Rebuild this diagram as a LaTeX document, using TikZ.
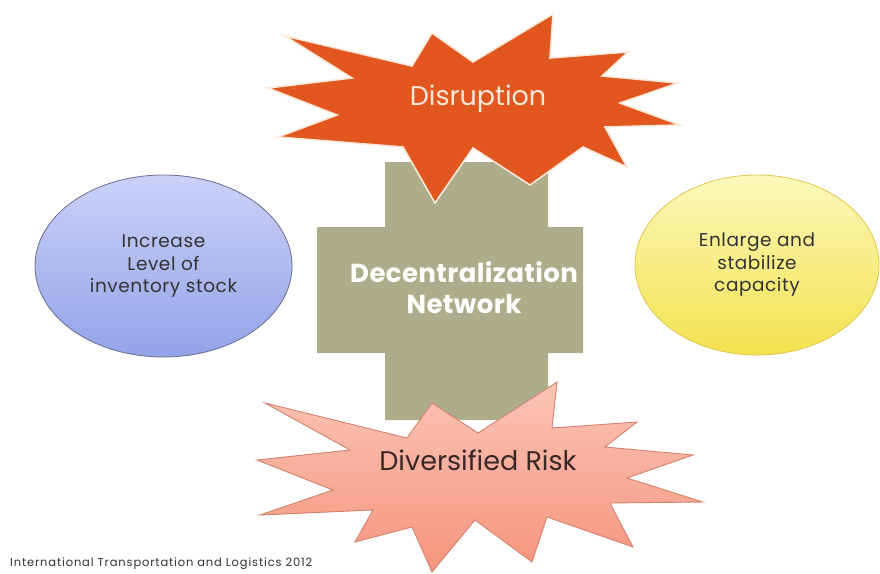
\documentclass[tikz,border=0pt]{standalone}
\usepackage{fontspec}
\setmainfont{Poppins}
\usetikzlibrary{shapes.geometric}
\definecolor{crossfill}{HTML}{ADAC8B}
\definecolor{burst}{HTML}{E2561F}
\definecolor{burstText}{HTML}{FDE8D8}
\definecolor{riskTop}{HTML}{FBC4B6}
\definecolor{riskBot}{HTML}{F5957E}
\definecolor{riskLine}{HTML}{D5826C}
\definecolor{riskText}{HTML}{3A2826}
\definecolor{blueTop}{HTML}{CBD1F7}
\definecolor{blueBot}{HTML}{93A3E8}
\definecolor{blueLine}{HTML}{6A6F8E}
\definecolor{yelTop}{HTML}{FBF8BC}
\definecolor{yelBot}{HTML}{F3E24E}
\definecolor{yelLine}{HTML}{E3C54A}
\definecolor{inkText}{HTML}{333333}
\tikzset{
  bubble/.style={ellipse, minimum width=257pt, minimum height=182pt, line width=0.8pt,
    align=center, text=inkText,
    font=\fontsize{18.5}{22.5}\selectfont\addfontfeatures{LetterSpace=3}},
  bigtext/.style={align=center, font=\fontsize{27}{31}\selectfont},
}
\begin{document}
\begin{tikzpicture}[x=1pt,y=-1pt]
\useasboundingbox (0,0) rectangle (880,573);
\fill[white] (0,0) rectangle (880,573);

% central plus shape
\fill[crossfill] (385,162) -- (548,162) -- (548,227) -- (583,227) -- (583,353)
  -- (548,353) -- (548,420) -- (385,420) -- (385,353) -- (317,353) -- (317,227)
  -- (385,227) -- cycle;
\node[bigtext, text=white, font=\fontsize{26}{31}\selectfont\bfseries\addfontfeatures{LetterSpace=1.5}]
  (hub) at (464,288) {Decentralization\\Network};

% upper burst
\filldraw[fill=burst, draw=burstText, line width=1.6pt, line join=miter]
  (285,36) -- (412,66) -- (432,33) -- (473,62) -- (553,14) -- (550,58)
  -- (628,52) -- (602,76) -- (678,83) -- (620,103) -- (680,125) -- (605,127)
  -- (627,167) -- (583,147) -- (530,185) -- (473,148) -- (435,203) -- (403,147)
  -- (278,137) -- (337,115) -- (268,88) -- (352,78) -- cycle;
\node[bigtext, text=burstText, anchor=base] (disruption) at (478,105) {Disruption};

% lower burst
\path[top color=riskTop, bottom color=riskBot, draw=riskLine, line width=0.9pt]
  (265,403) -- (407,438) -- (432,403) -- (478,433) -- (557,382) -- (552,428)
  -- (637,422) -- (605,447) -- (693,455) -- (627,478) -- (703,502) -- (610,503)
  -- (633,547) -- (547,517) -- (532,562) -- (475,520) -- (432,572) -- (412,527)
  -- (355,542) -- (373,510) -- (260,515) -- (333,490) -- (257,460) -- (350,450)
  -- cycle;
\node[bigtext, text=riskText, anchor=base] (risk) at (478,470) {Diversified Risk};

% side ellipses
\node[bubble, top color=blueTop, bottom color=blueBot, draw=blueLine] (stock) at (163.5,266)
  {Increase\\Level of\\inventory stock};
\node[bubble, minimum width=244pt, minimum height=180pt, top color=yelTop, bottom color=yelBot,
  draw=yelLine] (capacity) at (757,265)
  {Enlarge and\\stabilize\\capacity};

% footer
\node[anchor=base west, inner sep=0pt, text=inkText,
  font=\fontsize{11.5}{13}\selectfont\addfontfeatures{LetterSpace=7.4}]
  (credit) at (10,566) {International Transportation and Logistics 2012};
\end{tikzpicture}
\end{document}
